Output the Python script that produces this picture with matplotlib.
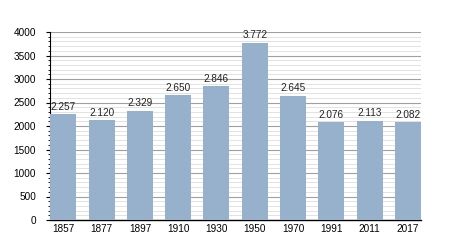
import matplotlib.pyplot as plt
from matplotlib.ticker import MultipleLocator

years = ["1857", "1877", "1897", "1910", "1930", "1950", "1970", "1991", "2011", "2017"]
population = [2257, 2120, 2329, 2650, 2846, 3772, 2645, 2076, 2113, 2082]

plt.rcParams["font.family"] = ["Liberation Sans", "DejaVu Sans"]

fig = plt.figure(figsize=(4.5, 2.5), dpi=100)
ax = fig.add_axes([0.111, 0.12, 0.825, 0.752])

x = range(len(years))
ax.bar(x, population, width=0.68, color="#97b1cc", zorder=3)

for i, v in zip(x, population):
    label = f"{v:,}".replace(",", ".")
    ax.text(i, v + 50, label, ha="center", va="bottom", fontsize=7.2, color="#222222", zorder=4)

ax.set_xlim(-0.35, 9.35)
ax.set_ylim(0, 4000)
ax.set_xticks(list(x))
ax.set_xticklabels(years, fontsize=7.2)
ax.yaxis.set_major_locator(MultipleLocator(500))
ax.yaxis.set_minor_locator(MultipleLocator(100))
ax.tick_params(axis="y", labelsize=7.2, length=3, width=0.8, pad=7)
ax.tick_params(axis="y", which="minor", length=1.5, width=0.6)
ax.tick_params(axis="x", length=0, pad=3)

ax.grid(axis="y", which="major", color="#a0a0a0", linewidth=0.8, zorder=1)
ax.grid(axis="y", which="minor", color="#dddddd", linewidth=0.6, zorder=0)

for side in ["top", "right"]:
    ax.spines[side].set_visible(False)
ax.spines["left"].set_linewidth(0.8)
ax.spines["bottom"].set_linewidth(1.0)

fig.savefig("out.png", dpi=100)
